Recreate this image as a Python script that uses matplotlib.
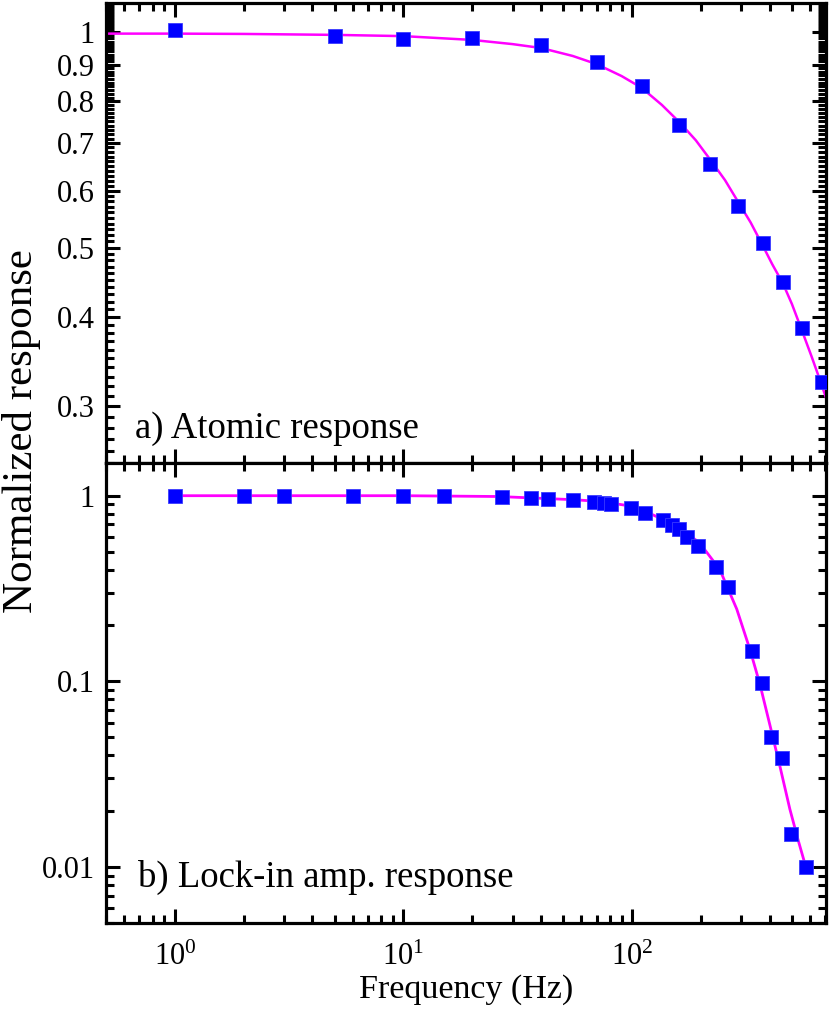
import numpy as np
import matplotlib
matplotlib.use("Agg")
import matplotlib.pyplot as plt
from matplotlib.ticker import FixedLocator, FixedFormatter, LogLocator, NullFormatter

plt.rcParams['font.family'] = ['Liberation Serif', 'DejaVu Serif']
plt.rcParams['mathtext.fontset'] = 'custom'
plt.rcParams['mathtext.rm'] = 'Liberation Serif'

# a) atomic response (measured points and fit line)
atom_freq = [1, 5, 10, 20, 40, 70, 110, 160, 220, 290, 373, 456, 553, 676]
atom_resp = [1.006, 0.987, 0.978, 0.981, 0.959, 0.908, 0.841, 0.742, 0.655,
             0.571, 0.508, 0.447, 0.386, 0.324]
atom_fit_freq = [0.5, 1, 2, 5, 10, 20, 30, 40, 55, 70, 90, 110, 135, 162, 190,
                 220, 255, 292, 330, 373, 410, 456, 500, 553, 610, 676, 710]
atom_fit_resp = [0.995, 0.995, 0.994, 0.991, 0.987, 0.975, 0.962, 0.950, 0.926,
                 0.902, 0.868, 0.836, 0.791, 0.747, 0.706, 0.663, 0.621, 0.578,
                 0.542, 0.503, 0.474, 0.446, 0.417, 0.383, 0.352, 0.321, 0.306]

# b) lock-in amplifier response
lock_freq = [1, 2, 3, 6, 10, 15, 27, 36, 43, 55, 68, 75, 81, 99, 114, 136, 149,
             160, 174, 194, 233, 262, 334, 370, 405, 453, 498, 577]
lock_resp = [1.0, 1.0, 1.0, 1.0, 1.0, 1.0, 0.99, 0.976, 0.965, 0.952, 0.928,
             0.917, 0.906, 0.862, 0.810, 0.743, 0.698, 0.665, 0.602, 0.539,
             0.415, 0.324, 0.145, 0.0976, 0.0503, 0.0386, 0.0151, 0.0100]
lock_fit_freq = [1, 10, 26, 55, 72, 101, 123, 157, 197, 242, 287, 328, 362,
                 401, 443, 490, 535, 577]
lock_fit_resp = [1.0, 1.0, 0.99, 0.952, 0.932, 0.876, 0.79, 0.684, 0.559, 0.40,
                 0.245, 0.148, 0.097, 0.058, 0.035, 0.0205, 0.0137, 0.0099]

atom_yticks = [0.3, 0.4, 0.5, 0.6, 0.7, 0.8, 0.9, 1.0]
atom_ylabels = ['0.3', '0.4', '0.5', '0.6', '0.7', '0.8', '0.9', '1']
lock_yticks = [0.01, 0.1, 1]
lock_ylabels = ['0.01', '0.1', '1']
xticks = [1, 10, 100]
xlabels = [r'$\mathregular{10^{0}}$', r'$\mathregular{10^{1}}$', r'$\mathregular{10^{2}}$']

W, H = 830, 1014
fig = plt.figure(figsize=(W / 100, H / 100), dpi=100)
L, R = 106 / W, 826 / W
ax1 = fig.add_axes([L, 1 - 463 / H, R - L, 460 / H])
ax2 = fig.add_axes([L, 1 - 923 / H, R - L, 460 / H])

blue = '#0000ff'
mag = '#ff00ff'
for ax in (ax1, ax2):
    ax.set_xscale('log')
    ax.set_yscale('log')
    ax.set_xlim(0.5, 705)
    for s in ax.spines.values():
        s.set_linewidth(2.3)
    ax.tick_params(which='both', direction='in', top=True, right=True, width=2.2)
    ax.tick_params(which='major', length=10, labelsize=22, pad=8)
    ax.tick_params(which='minor', length=5.5)
    ax.xaxis.set_major_locator(FixedLocator(xticks))
    ax.xaxis.set_minor_locator(LogLocator(base=10, subs=np.arange(2, 10)))
    ax.xaxis.set_minor_formatter(NullFormatter())

ax1.plot(atom_fit_freq, atom_fit_resp, color=mag, lw=1.8, zorder=2)
ax1.plot(atom_freq, atom_resp, 's', color=blue, ms=9.5, mec='#3a3aff', mew=0.6, zorder=3)
ax1.set_ylim(0.25, 1.098)
ax1.yaxis.set_major_locator(FixedLocator(atom_yticks))
ax1.yaxis.set_major_formatter(FixedFormatter(atom_ylabels))
ax1.yaxis.set_minor_locator(FixedLocator(np.arange(0.25, 1.10, 0.01)))
ax1.yaxis.set_minor_formatter(NullFormatter())
ax1.set_xticklabels([])
ax1.text(0.04, 0.054, 'a) Atomic response', transform=ax1.transAxes,
         fontsize=26.5, va='baseline')

ax2.plot(lock_fit_freq, lock_fit_resp, color=mag, lw=2.0, zorder=2)
ax2.plot(lock_freq, lock_resp, 's', color=blue, ms=9.5, mec='#3a3aff', mew=0.6, zorder=3)
ax2.set_ylim(0.005, 1.5)
ax2.yaxis.set_major_locator(FixedLocator(lock_yticks))
ax2.yaxis.set_major_formatter(FixedFormatter(lock_ylabels))
ax2.yaxis.set_minor_locator(LogLocator(base=10, subs=np.arange(2, 10)))
ax2.yaxis.set_minor_formatter(NullFormatter())
ax2.xaxis.set_major_formatter(FixedFormatter(xlabels))
ax2.tick_params(axis='x', which='major', pad=14)
ax2.text(0.045, 0.078, 'b) Lock-in amp. response', transform=ax2.transAxes,
         fontsize=26.5, va='baseline')
ax2.set_xlabel('Frequency (Hz)', fontsize=24.5, labelpad=2)

fig.text(22 / W, 1 - 431 / H, 'Normalized response', rotation=90,
         fontsize=31, ha='center', va='center')

fig.savefig('out.png', dpi=100)
